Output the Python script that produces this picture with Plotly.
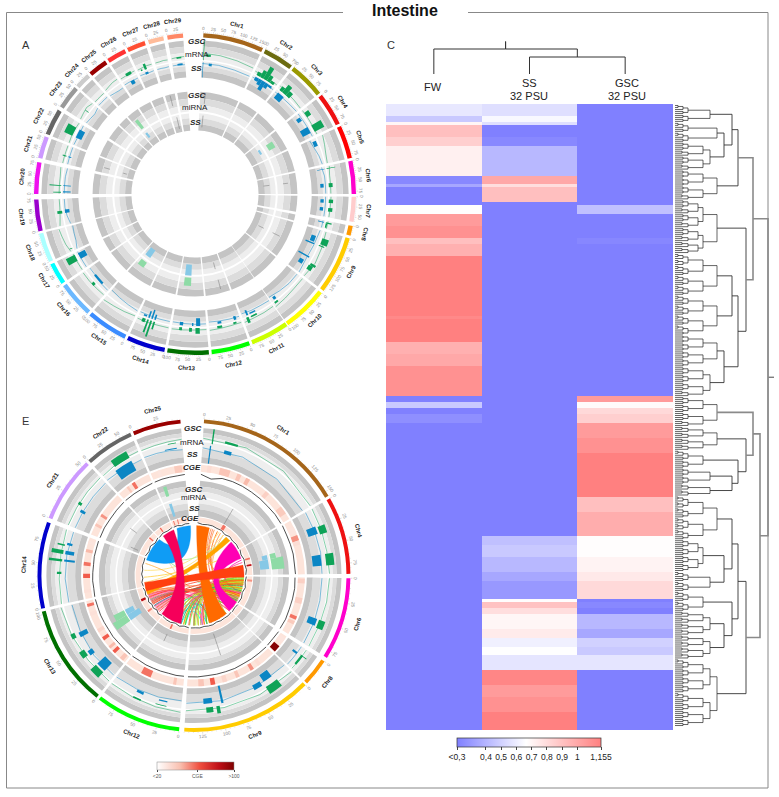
import numpy as np
import plotly.graph_objects as go

W, H = 779, 797

# ---------------- Panel C: heatmap (run length blocks, top to bottom) ----------------
block_rows = [4,2,1,4,3,10,3,1,5,1,3,4,4,2,4,20,1,8,4,4,10,
              2,2,2,3,5,5,15,5,8,
              3,4,5,3,6,1,2,2,5,3,3,3,5,5,4,5,6]
fw_blocks = [.58,.47,.70,.91,.85,.72,.24,.35,.30,.30,.67,1.05,1.09,.91,.97,1.155,1.12,1.155,.97,1.0,1.09,
             .30,.47,.30,.265,.30,.30,.30,.30,.30,
             .30,.30,.30,.30,.30,.30,.30,.30,.30,.30,.30,.30,.30,.30,.30,.30,.30]
ss_blocks = [.55,.64,.55,.30,.24,.41,1.0,.79,.91,.30,.30,.30,.30,.30,.30,.30,.30,.30,.30,.30,.30,
             .30,.30,.30,.30,.30,.30,.30,.30,.30,
             .44,.47,.41,.35,.295,.67,.90,.79,.70,.74,.61,.66,.57,1.13,1.05,1.09,1.155]
gsc_blocks = [.30,.30,.30,.30,.30,.30,.30,.30,.30,.30,.44,.30,.30,.235,.30,.30,.30,.30,.30,.30,.30,
              1.05,.68,.81,.85,1.05,1.09,1.155,.91,.98,
              .67,.67,.71,.75,.81,.30,.24,.30,.41,.35,.50,.47,.57,.30,.30,.30,.30]
heat_columns = ["FW", "SS 32 PSU", "GSC 32 PSU"]
heat_ticks = [.21, .4, .5, .6, .7, .8, .9, 1, 1.155]
heat_ticktext = ["<0,3", "0,4", "0,5", "0,6", "0,7", "0,8", "0,9", "1", "1,155"]

# ---------------- Row dendrogram: [height, child, child]; (height, n) = group of n rows ----------------
tree_top = [78,
            [63, [57, (35, 6), [49, (42, 7), (35, 9)]], (42, 10)],
            [71, (42, 18), [63, [57, (42, 14), (42, 13)], [49, (42, 11), (35, 10)]]]]
tree_bottom = [85,
               [78, (42, 10), [71, (42, 8), [63, (28, 6), [57, (35, 5), (35, 4)]]]],
               [71, [63, [57, (42, 15), [49, (28, 11), (35, 7)]],
                     [57, (28, 7), [49, (35, 8), (35, 8)]]], (42, 23)]]
tree_root = [93, tree_top, tree_bottom]
leaves_per_row = 1.5

# ---------------- Panel A: chromosomes ----------------
a_chr = ["Chr%d" % i for i in range(1, 30)]
a_start = [3,26,38,52,65,78,91,101.5,106,128,145,160,175,191,206,222,236,245,256.5,270,283,292,303,312.5,319,327,335,343,350]
a_end = [25,37,51,64,77,90,100,105,127,144.6,159,174,190,205,221,235,244,255.7,268,281.5,291,301.6,311.6,318,326,334,341.7,348.6,355.7]
a_len = [155,76,96,87,85,82,62,24,145,112,95,95,103,95,103,88,55,72,78,78,55,65,58,40,48,48,45,40,40]
chr_colors = {"Chr1":"#a5651a","Chr2":"#6b6b10","Chr3":"#999900","Chr4":"#ee1111","Chr5":"#ff0000","Chr6":"#ff00cc",
              "Chr7":"#ffcccc","Chr8":"#ff9900","Chr9":"#ffcc00","Chr10":"#ffff00","Chr11":"#ccff00","Chr12":"#00ff00",
              "Chr13":"#007000","Chr14":"#0000cc","Chr15":"#3b8cff","Chr16":"#6bb8ff","Chr17":"#00ffff","Chr18":"#aaffff",
              "Chr19":"#9900cc","Chr20":"#ee11ee","Chr21":"#cc99ff","Chr22":"#666666","Chr23":"#999999","Chr24":"#cccccc",
              "Chr25":"#990000","Chr26":"#ff3333","Chr27":"#ff4f33","Chr28":"#ffbb99","Chr29":"#ff8866"}

a_gsc_n = [1,1,2,2,2,2,2,3,3,3,4,4,6,6,7,7,8,8,9,9,9,9,10,11,11,12,12,13,13,13,14,14,14,14,16,17,18,19,20,20,21,22,23,26,27,27,29]
a_gsc_s = [.02,.06,.12,.28,.42,.58,.72,.08,.2,.35,.12,.62,.62,.08,.15,.55,.2,.35,.15,.3,.7,.75,.85,.82,.55,.15,.6,.2,.42,.7,.45,.55,.65,.75,.45,.55,.1,.45,.05,.3,.4,.35,.5,.4,.45,.2,.4]
a_gsc_e = [.03,.16,.28,.42,.58,.72,.88,.2,.35,.5,.3,.88,.76,.1,.32,.72,.35,.85,.28,.32,.75,.85,.95,.9,.75,.25,.75,.32,.5,.78,.5,.6,.7,.85,.55,.9,.13,.55,.08,.33,.45,.75,.53,.75,.6,.3,.75]
a_gsc_l = [0,.2,0,0,0,0,0,0,0,0,.1,.05,0,0,0,0,0,0,.05,0,.05,0,0,0,0,0,0,0,0,0,0,0,0,0,0,.05,0,0,0,0,0,.1,0,.1,0,0,.12]
a_gsc_h = [1,.32,.2,.4,.72,.35,.15,.25,.5,.3,.35,.6,.2,.45,.22,.22,.3,.08,.4,.3,.35,.25,.1,.3,.08,.1,.12,.3,.2,.15,.4,.85,.7,.2,.15,.55,.15,.25,.4,.6,.2,.55,.2,.25,.3,.08,.2]

a_ss_n = [1,1,2,2,2,2,2,3,4,4,5,6,6,7,7,8,9,9,9,9,10,11,11,12,12,13,13,13,14,14,14,14,16,17,19,20,20,21,22,26,27,29]
a_ss_s = [.02,.14,.12,.28,.42,.58,.72,.1,.15,.6,.1,.62,.08,.15,.55,.2,.15,.3,.6,.72,.84,.8,.55,.12,.6,.18,.38,.68,.45,.55,.65,.75,.3,.55,.45,.3,.06,.4,.35,.45,.4,.4]
a_ss_e = [.03,.2,.28,.42,.58,.72,.88,.35,.3,.85,.3,.76,.1,.32,.72,.3,.28,.33,.63,.82,.92,.86,.75,.2,.72,.3,.42,.78,.5,.6,.7,.85,.7,.9,.58,.33,.1,.45,.75,.7,.6,.8]
a_ss_l = [0,.05,0,0,0,0,0,.05,.15,.08,0,.2,0,.2,.2,0,.25,.2,.1,.3,0,0,0,0,0,0,0,0,0,0,0,0,.15,.05,.05,0,0,0,0,.15,.05,.05]
a_ss_h = [1,.22,.25,.4,.65,.35,.15,.5,.45,.65,.25,.42,.5,.42,.42,.4,.55,.8,.9,.6,.2,.35,.1,.25,.15,.5,.2,.22,.35,.6,.45,.12,.3,.55,.35,.5,.5,.2,.4,.4,.2,.15]

a_gsc_line = [[.33,.3,.25,.2],[.1,.1,.08,.08],[.15,.1,.08,.05],[.06,.06,.05,.05],[.3,.2,.1,.05],[.12,.05,.05,.05],[.06,.05,.05,.05],[.05,.05,.05,.05],
              [.08,.15,.2,.08],[.1,.1,.15,.2],[.1,.12,.12,.15],[.08,.08,.1,.12],[.06,.06,.08,.1],[.08,.08,.1,.1],[.05,.12,.18,.25],[.06,.08,.1,.1],
              [.05,.05,.05,.05],[.1,.2,.25,.3],[.2,.1,.05,.05],[.05,.05,.05,.1],[.05,.05,.05,.05],[.05,.08,.08,.05],[.1,.15,.2,.1],[.05,.05,.05,.05],
              [.1,.15,.2,.2],[.1,.1,.12,.12],[.08,.1,.12,.1],[.1,.1,.12,.1],[.12,.14,.15,.16]]
a_ss_line = [[.05,.05,.1,.12],[.08,.08,.08,.08],[.12,.1,.08,.05],[.06,.06,.05,.05],[.35,.25,.12,.05],[.15,.05,.05,.05],[.06,.05,.05,.05],[.05,.05,.05,.05],
             [.08,.15,.2,.1],[.12,.12,.2,.3],[.12,.15,.15,.2],[.1,.12,.15,.18],[.08,.08,.1,.12],[.1,.1,.12,.12],[.08,.15,.22,.3],[.1,.12,.2,.2],
             [.05,.05,.05,.05],[.1,.25,.3,.35],[.25,.12,.05,.05],[.05,.05,.05,.1],[.05,.05,.05,.05],[.05,.08,.08,.05],[.12,.18,.22,.12],[.05,.05,.05,.05],
             [.12,.18,.22,.22],[.12,.12,.15,.15],[.08,.1,.12,.1],[.1,.1,.12,.1],[.1,.1,.12,.12]]

a_mir_gsc_n = [4,13,15,25]
a_mir_gsc_s = [.3,.5,.6,.2]
a_mir_gsc_e = [.65,.8,.9,.5]
a_mir_gsc_l = [.2,.1,.1,.1]
a_mir_gsc_h = [.55,.5,.4,.6]
a_mir_ss_n = [4,13,15,25]
a_mir_ss_s = [.3,.5,.6,.2]
a_mir_ss_e = [.6,.8,.9,.45]
a_mir_ss_l = [.2,.0,.2,.2]
a_mir_ss_h = [.32,.6,.7,.5]
a_mark_n = [1,1,28,28,6,6,9,9,12,12,21,21]
a_mark_f = [.13,.13,.5,.65,.45,.45,.5,.5,.35,.35,.4,.4]
a_mark_lo = [92,68,92,68,90,70,88,72,90,72,90,72]
a_mark_hi = [103,80,103,80,95,76,96,78,100,79,96,76]

# ---------------- Panel E: chromosomes ----------------
e_chr = ["Chr1","Chr4","Chr6","Chr8","Chr9","Chr12","Chr13","Chr14","Chr21","Chr22","Chr25"]
e_start = [3.7,60.4,91,123.4,134.5,185.5,218.6,257.7,291.7,317.5,337]
e_end = [59.3,89.4,121.8,133.7,183.6,217.5,256.6,290,316.4,335.9,355]
e_len = [155,87,82,24,145,95,103,95,55,65,48]

e_gsc_n = ["Chr1","Chr1","Chr4","Chr4","Chr6","Chr8","Chr8","Chr9","Chr9","Chr9","Chr12","Chr12","Chr13","Chr13","Chr13","Chr14","Chr14","Chr14","Chr14","Chr21","Chr22","Chr25"]
e_gsc_s = [.07,.17,.28,.7,.6,.3,.3,.14,.7,.76,.55,.2,.12,.38,.62,.67,.57,.78,.4,.4,.35,.65]
e_gsc_e = [.08,.27,.4,.87,.72,.33,.75,.26,.73,.82,.66,.35,.24,.46,.68,.72,.6,.8,.43,.45,.75,.85]
e_gsc_l = [0,.2,0,0,0,0,.05,0,0,0,.15,.05,0,0,0,0,0,0,0,0,.1,.05]
e_gsc_h = [1,.35,.5,.55,.45,.5,.2,.55,.5,.35,.25,.1,.5,.4,.3,.8,.9,.5,.3,.25,.6,.1]
e_ss_n = ["Chr1","Chr1","Chr4","Chr4","Chr6","Chr8","Chr9","Chr9","Chr9","Chr9","Chr12","Chr12","Chr13","Chr13","Chr13","Chr14","Chr14","Chr14","Chr21","Chr22","Chr25"]
e_ss_s = [.06,.18,.26,.7,.6,.3,.16,.28,.66,.76,.55,.2,.12,.36,.6,.67,.57,.8,.3,.3,.55]
e_ss_e = [.07,.24,.38,.87,.7,.4,.25,.36,.68,.84,.65,.32,.24,.42,.66,.72,.6,.83,.35,.75,.85]
e_ss_l = [0,.1,0,.15,0,.1,.2,.05,0,.1,.05,.05,0,0,.1,0,0,0,0,0,.1]
e_ss_h = [1,.3,.55,.65,.5,.4,.65,.35,1,.4,.2,.12,.6,.3,.6,.5,.6,.3,.3,.6,.15]
e_gsc_line = [[.25,.28,.25,.1],[.1,.08,.06,.1],[.1,.08,.05,.05],[.05,.05,.05,.05],[.2,.15,.1,.1],[.25,.2,.15,.12],[.1,.1,.15,.2],[.1,.05,.05,.1],[.1,.1,.1,.1],[.05,.1,.15,.15],[.1,.12,.15,.2]]
e_ss_line = [[.1,.1,.15,.2],[.1,.08,.06,.1],[.1,.08,.05,.05],[.05,.05,.05,.05],[.15,.12,.08,.1],[.22,.18,.15,.12],[.1,.1,.18,.25],[.1,.05,.05,.1],[.1,.1,.1,.1],[.05,.1,.15,.15],[.1,.12,.15,.2]]

e_mir_gsc_n = ["Chr4","Chr4","Chr13","Chr13","Chr25"]
e_mir_gsc_s = [.48,.6,.42,.55,.2]
e_mir_gsc_e = [.6,.87,.55,.66,.32]
e_mir_gsc_l = [.0,.0,.0,.0,.3]
e_mir_gsc_h = [.35,.75,.95,.7,.9]
e_mir_ss_n = ["Chr4","Chr4","Chr13","Chr13","Chr25"]
e_mir_ss_s = [.48,.6,.42,.55,.2]
e_mir_ss_e = [.6,.85,.55,.66,.32]
e_mir_ss_l = [.1,.1,.0,.0,.1]
e_mir_ss_h = [.4,.6,.75,.5,.85]
e_mark_n = ["Chr1","Chr9","Chr12","Chr21","Chr21"]
e_mark_f = [.48,.55,.6,.1,.6]
e_mark_lo = [60,62,65,62,72]
e_mark_hi = [78,85,73,70,80]

# CGE tracks
e_cge_n = ["Chr1","Chr1","Chr1","Chr1","Chr1","Chr1","Chr4","Chr4","Chr4","Chr6","Chr6","Chr6","Chr6","Chr8","Chr8","Chr9","Chr9","Chr9","Chr9","Chr9","Chr9",
           "Chr12","Chr12","Chr13","Chr13","Chr13","Chr13","Chr13","Chr13","Chr13","Chr14","Chr14","Chr14","Chr14","Chr14","Chr21","Chr21","Chr22","Chr22","Chr25","Chr25"]
e_cge_s = [.06,.18,.35,.44,.66,.86,.12,.28,.38,.02,.35,.67,.76,.1,.6,.17,.26,.43,.57,.7,.82,
           .12,.55,.03,.18,.27,.41,.54,.79,.92,.1,.34,.54,.76,.9,.2,.43,.27,.45,.7,.2]
e_cge_e = [.1,.28,.39,.48,.7,.94,.25,.38,.46,.1,.45,.73,.82,.4,.95,.21,.3,.47,.62,.75,.88,
           .17,.72,.09,.23,.31,.46,.59,.84,.96,.15,.41,.6,.81,.95,.26,.49,.34,.55,.92,.3]
e_cge_v = [33,42,42,45,38,40,30,52,33,38,38,58,40,30,98,33,52,42,36,62,42,
           42,58,42,62,45,62,36,32,58,32,62,58,45,30,42,52,40,58,40,30]
e_in_cge_n = ["Chr1","Chr4","Chr4","Chr6","Chr6","Chr9","Chr12","Chr13","Chr13","Chr21","Chr22","Chr25","Chr25"]
e_in_cge_s = [.47,.4,.63,.1,.45,.52,.55,.33,.66,.72,.35,.1,.33]
e_in_cge_e = [.53,.46,.69,.17,.5,.56,.6,.38,.72,.78,.42,.16,.39]
e_in_cge_v = [58,58,85,52,32,30,60,55,85,60,60,55,55]
e_line_out = [[0,.8,.1,0,0,.05,.05,.1,0,.05],[0,.1,.05,0,.1,0],[.1,0,.05,.1,0,.1],[0,.1,.05],[0,.05,.05,.1,0,.05,.05,.1,0,0],[.05,0,.1,.05,.05,0,.1,0],
             [0,.05,.1,0,.1,.05,0,.05,0],[0,.1,0,.05,.1,0,.05,0],[.05,0,.1,.05,0],[0,.05,.1,.05],[.05,0,.05,.1,0]]
e_line_in = [[0,.6,.2,0,.3,.1,.9,.1,.6,.2,.5],[.1,.8,.2,.5,.1,.6],[.3,.7,.1,.9,.2,.5],[.2,.5,.1],[.4,.1,.3,.2,.6,.1,.2,.5,.1,.3,.2],[.2,.7,.1,.9,.3,.4,.8],
            [.9,.3,1.2,.4,1.0,.2,1.1,.4,.9,.3],[.6,.2,.9,.3,.7,.2,.5,.4],[.3,1.0,.2,1.2,.4],[.8,.2,.6,.1],[.3,.2,.8,.3,.4]]

# Chord ribbons of panel E (genome angle, degrees)
rib_a0 = [40,340,3,48,78,322]
rib_a1 = [46,356,18,70,92,336]
rib_b0 = [248,288,140,122,252,195]
rib_b1 = [257,316,162,135,262,220]
rib_col = ["#ffa500","#0f9cf5","#ff6a00","#ff00b4","#ff4010","#f5005a"]
thin_a = [20,24,28,32,36,22,262,268,276,284,296,300,305,92,95,98,101,104,107,110,113,116,119,93,97,103,108,112,117,121,
          226,229,232,235,238,241,244,247,250,228,233,240,246,200,195,205,190,198,210,62,66,72,75,180,170,172,140,150,165,222,
          224,227,230,233,236,239,242,245,248,251,225,231,237,243,249,94,99,106,111,115,120,96,100,105,109,114,118,122,126,130]
thin_b = [100,108,115,122,128,130,36,62,30,150,40,130,190,165,172,178,185,192,198,205,212,160,170,150,180,195,155,168,175,190,
          100,105,112,95,118,125,90,132,110,150,165,140,175,165,170,160,150,155,142,120,118,110,126,125,128,135,100,115,130,125,
          96,98,102,108,114,120,124,128,135,140,145,155,160,170,180,205,200,190,215,175,165,146,152,158,162,168,180,186,192,198]
thin_col = ["#ff8c40","#ff8c40","#ff6a00","#ff8c40","#ffb060","#ff7040","#ffe070","#ffd040","#ffe070","#ffb040","#b0f090","#90ee90","#ffd0a0",
            "#aaff00","#88ee00","#aaff00","#66dd22","#bbff22","#aaff00","#88dd22","#ccee00","#ff00b4","#ff3080","#66cc33","#aaff00","#00c060","#ffa500","#ff8800","#88ee00","#44cc44",
            "#ff4422","#ff5a3c","#ff3322","#e04020","#ff6644","#20a090","#ff4422","#ff5a3c","#ff7744","#ff88cc","#ff66dd","#ff4466","#ff55aa",
            "#00eeee","#00ffff","#22dddd","#00ffff","#22cccc","#00dddd","#ffa060","#ff8040","#ff00aa","#ff3388","#ff2288","#ff88dd","#ff66aa","#88dd22","#ff5522","#66cc22","#ff99cc",
            "#ff3322","#ff5a3c","#e04020","#20a090","#ff4422","#c05040","#ff6644","#ff3322","#ff5a3c","#ff7744","#ff88cc","#ff66dd","#e04020","#ff55aa","#ffa060",
            "#88ee00","#aaff00","#66dd22","#ff3080","#bbff22","#44cc44","#ff8800","#ff7020","#ffa500","#88dd22","#ff6a00","#66cc33","#ff4422","#ff8800","#ff3388"]

# CGE colour scale legend
cge_ticks = [20, 62, 100]
cge_ticktext = ["<20", "CGE", ">100"]

# ---------------- helpers ----------------
GREEN, BLUE = "#0fa358", "#0b86c4"
LGREEN, LBLUE = "#8edba6", "#86c8e6"
FONT = "Liberation Sans"
annotations = []

def px(x): return x / W
def py(y): return 1 - y / H

def label(x, y, text, size=8, color="#222", angle=0, weight=False, italic=False, family=FONT):
    t = text
    if weight: t = "<b>%s</b>" % t
    if italic: t = "<i>%s</i>" % t
    annotations.append(dict(x=px(x), y=py(y), xref="paper", yref="paper", text=t, showarrow=False,
                            font=dict(size=size, color=color, family=family), textangle=angle,
                            xanchor="center", yanchor="middle"))

fig = go.Figure()

def bars(sub, theta, width, base, height, color, extra=None):
    marker = dict(color=color, line=dict(width=0))
    if extra: marker.update(extra)
    fig.add_trace(go.Barpolar(theta=theta, width=width, base=base, r=height, marker=marker,
                              subplot=sub, showlegend=False, hoverinfo="skip"))

def circos(sub, center, names, starts, ends, lens, R_bar, tracks, tick_r, name_r):
    ang = {n: (s, e) for n, s, e in zip(names, starts, ends)}
    mids = [(s + e) / 2 for s, e in zip(starts, ends)]
    widths = [e - s for s, e in zip(starts, ends)]
    for r0, r1, col in tracks:
        bars(sub, mids, widths, [r0] * len(mids), [r1 - r0] * len(mids), col)
    bars(sub, mids, widths, [R_bar[0]] * len(mids), [R_bar[1] - R_bar[0]] * len(mids), [chr_colors[n] for n in names])
    tr, tth = [], []
    for n, s, e, L in zip(names, starts, ends, lens):
        for v in range(0, L + 1, 5):
            th = s + (e - s) * v / L
            major = v % 25 == 0
            tr += [R_bar[1] + .3, R_bar[1] + (2.0 if major else 1.0), None]
            tth += [th, th, None]
            if major:
                a = np.radians(th)
                rot = th if th < 105 or th > 268 else th - 180
                label(center[0] + tick_r * np.sin(a), center[1] - tick_r * np.cos(a), str(v), 4.6, "#8a8a8a", rot)
        m = np.radians((s + e) / 2)
        th = (s + e) / 2
        rot = th if th < 105 or th > 268 else th - 180
        label(center[0] + name_r * np.sin(m), center[1] - name_r * np.cos(m), n, 6, "#222", rot, weight=True)
    fig.add_trace(go.Scatterpolar(r=tr, theta=tth, mode="lines", line=dict(color="#aaa", width=.4),
                                  subplot=sub, showlegend=False, hoverinfo="skip"))
    return ang

def peaks(sub, ang, n, s, e, l, h, r0, r1, color):
    th, w, b, d = [], [], [], []
    for a, fs, fe, lo, hi in zip(n, s, e, l, h):
        st, en = ang[a]
        th.append(st + (fs + fe) / 2 * (en - st))
        w.append(max((fe - fs) * (en - st), .25))
        b.append(r0 + lo * (r1 - r0) if r1 > r0 else r0 + hi * (r1 - r0))
        d.append(abs(hi - lo) * abs(r1 - r0))
    bars(sub, th, w, b, d, color)

def level_lines(sub, ang, names, lines, r0, r1, color, width=.5):
    for n, vals in zip(names, lines):
        st, en = ang[n]
        t = np.linspace(st + .2, en - .2, len(vals))
        r = r0 + np.array(vals) * (r1 - r0)
        fig.add_trace(go.Scatterpolar(r=r, theta=t, mode="lines", line=dict(color=color, width=width),
                                      subplot=sub, showlegend=False, hoverinfo="skip"))

def marks(sub, ang, n, f, lo, hi, color="#777"):
    rr, tt = [], []
    for a, fr, r0, r1 in zip(n, f, lo, hi):
        st, en = ang[a]
        th = st + fr * (en - st)
        rr += [r0, r1, None]
        tt += [th, th, None]
    fig.add_trace(go.Scatterpolar(r=rr, theta=tt, mode="lines", line=dict(color=color, width=.5),
                                  subplot=sub, showlegend=False, hoverinfo="skip"))

G1, G2, G3 = "#c4c4c4", "#dcdcdc", "#eeeeee"
# ---------------- Panel A ----------------
A_C = (195, 194)
A_S = .985
a_tracks = [(150, 156, G1), (143.5, 150, G2), (136.5, 143.5, G3), (130, 135, G3), (125, 130, G2), (118.5, 125, G1),
            (97, 104, G1), (90, 97, G2), (84, 90, G3), (77, 82, G3), (71, 77, G2), (64.5, 71, G1)]
ang_a = circos("polar", A_C, a_chr, a_start, a_end, a_len, (159, 163.5), a_tracks, 168.5 * A_S, 177 * A_S)
def a_names(idx): return [a_chr[i - 1] for i in idx]
peaks("polar", ang_a, a_names(a_gsc_n), a_gsc_s, a_gsc_e, a_gsc_l, a_gsc_h, 136, 156, GREEN)
peaks("polar", ang_a, a_names(a_ss_n), a_ss_s, a_ss_e, a_ss_l, a_ss_h, 134, 118.5, BLUE)
peaks("polar", ang_a, a_names(a_mir_gsc_n), a_mir_gsc_s, a_mir_gsc_e, a_mir_gsc_l, a_mir_gsc_h, 83, 104, LGREEN)
peaks("polar", ang_a, a_names(a_mir_ss_n), a_mir_ss_s, a_mir_ss_e, a_mir_ss_l, a_mir_ss_h, 83, 64.5, LBLUE)
level_lines("polar", ang_a, a_chr, a_gsc_line, 137, 156, GREEN)
level_lines("polar", ang_a, a_chr, a_ss_line, 133.5, 118.5, BLUE)
marks("polar", ang_a, a_names(a_mark_n), a_mark_f, a_mark_lo, a_mark_hi)

# ---------------- Panel E ----------------
E_C = (194, 575.5)
E_S = .99
e_tracks = [(144, 149, G1), (140, 144, G2), (136.7, 140, G3), (128, 135, G3), (120, 128, G2), (114, 120, G1),
            (90, 96, G1), (85, 90, G2), (79.5, 85, G3), (73, 78, G3), (67, 73, G2), (60, 67, G1),
            (105, 112, "#fde4da"), (54, 59, "#fde4da")]
ang_e = circos("polar2", E_C, e_chr, e_start, e_end, e_len, (154, 158), e_tracks, 163 * E_S, 172 * E_S)
cs = [[0, "#ffffff"], [.3, "#f9c0b0"], [.55, "#f05040"], [.8, "#c01018"], [1, "#7f0000"]]
def cge_bars(n, s, e, v, r0, r1, cb=None):
    th = [ang_e[a][0] + (x + y) / 2 * (ang_e[a][1] - ang_e[a][0]) for a, x, y in zip(n, s, e)]
    w = [(y - x) * (ang_e[a][1] - ang_e[a][0]) for a, x, y in zip(n, s, e)]
    extra = dict(colorscale=cs, cmin=20, cmax=100)
    if cb:
        extra.update(showscale=True, colorbar=cb)
    bars("polar2", th, w, [r0] * len(th), [r1 - r0] * len(th), v, extra)
cge_bars(e_cge_n, e_cge_s, e_cge_e, e_cge_v, 105, 112)
cge_bars(e_in_cge_n, e_in_cge_s, e_in_cge_e, e_in_cge_v, 54, 59,
         cb=dict(orientation="h", x=px(195.5), xanchor="center", y=py(762), yanchor="top", len=77, lenmode="pixels",
                 thickness=8, thicknessmode="pixels", xpad=0, ypad=0, tickvals=cge_ticks, ticktext=cge_ticktext, tickangle=0,
                 tickfont=dict(size=5, color="#555", family=FONT), ticks="outside", ticklen=2, tickwidth=.5,
                 outlinewidth=.5, outlinecolor="#888"))
peaks("polar2", ang_e, e_gsc_n, e_gsc_s, e_gsc_e, e_gsc_l, e_gsc_h, 134, 149, GREEN)
peaks("polar2", ang_e, e_ss_n, e_ss_s, e_ss_e, e_ss_l, e_ss_h, 132, 114, BLUE)
peaks("polar2", ang_e, e_mir_gsc_n, e_mir_gsc_s, e_mir_gsc_e, e_mir_gsc_l, e_mir_gsc_h, 79, 96, LGREEN)
peaks("polar2", ang_e, e_mir_ss_n, e_mir_ss_s, e_mir_ss_e, e_mir_ss_l, e_mir_ss_h, 78, 60, LBLUE)
level_lines("polar2", ang_e, e_chr, e_gsc_line, 135.5, 149, GREEN)
level_lines("polar2", ang_e, e_chr, e_ss_line, 131, 114, BLUE)
marks("polar2", ang_e, e_mark_n, e_mark_f, e_mark_lo, e_mark_hi)
level_lines("polar2", ang_e, e_chr, e_line_out, 102.5, 98, "#222", .8)
level_lines("polar2", ang_e, e_chr, e_line_in, 53.5, 51.5, "#222", .8)

# chords
CH_R = 50.5
def xy(r, deg):
    a = np.radians(deg)
    return r * np.sin(a), r * np.cos(a)
def pull(a, b):
    d = abs((a - b + 180) % 360 - 180)
    return .8 * (1 - d / 60) if d <= 60 else .3 * (d - 60) / 120
def bez(a, b, n=30):
    k = pull(a, b)
    t = np.linspace(0, 1, n)
    xa, ya = xy(CH_R, a)
    xb, yb = xy(CH_R, b)
    cx, cy = k * (xa + xb) / 2, k * (ya + yb) / 2
    return ((1 - t) ** 2 * xa + 2 * t * (1 - t) * cx + t ** 2 * xb,
            (1 - t) ** 2 * ya + 2 * t * (1 - t) * cy + t ** 2 * yb)
def to_polar(x, y):
    return np.hypot(x, y), np.degrees(np.arctan2(x, y)) % 360
for tha, thb, col in zip(thin_a, thin_b, thin_col):
    x, y = bez(tha, thb)
    r, t = to_polar(x, y)
    fig.add_trace(go.Scatterpolar(r=r, theta=t, mode="lines", line=dict(color=col, width=.8), subplot="polar2",
                                  showlegend=False, hoverinfo="skip"))
for a0, a1, b0, b1, col in zip(rib_a0, rib_a1, rib_b0, rib_b1, rib_col):
    x1, y1 = bez(a0, b1)
    x2, y2 = bez(b0, a1)
    xb, yb = xy(CH_R, np.linspace(b1, b0, 10))
    xa, ya = xy(CH_R, np.linspace(a1, a0, 10))
    x = np.concatenate([x1, xb, x2, xa]); y = np.concatenate([y1, yb, y2, ya])
    r, t = to_polar(x, y)
    fig.add_trace(go.Scatterpolar(r=r, theta=t, mode="lines", fill="toself", fillcolor=col, line=dict(color=col, width=.3),
                                  subplot="polar2", showlegend=False, hoverinfo="skip"))

# ---------------- Panel C ----------------
HEAT_MIN = .21
z = np.column_stack([np.repeat(fw_blocks, block_rows), np.repeat(ss_blocks, block_rows), np.repeat(gsc_blocks, block_rows)])
z[np.isclose(z, .30)] = HEAT_MIN   # "<0,3" sits at the far end of the scale
n_rows = z.shape[0]
fig.add_trace(go.Heatmap(z=z, x=[0, 1, 2], y=list(range(n_rows)), xaxis="x", yaxis="y", zmin=HEAT_MIN, zmax=1.155,
                         colorscale=[[0, "#8080ff"], [.48, "#ffffff"], [1, "#ff8080"]], hoverinfo="skip",
                         colorbar=dict(orientation="h", x=px(529), xanchor="center", y=py(738), yanchor="top",
                                       len=144, lenmode="pixels", thickness=9, thicknessmode="pixels", xpad=0, ypad=0,
                                       tickvals=heat_ticks, ticktext=heat_ticktext, tickangle=0, ticks="outside", ticklen=3, tickwidth=.6,
                                       tickfont=dict(size=8.5, color="#222", family=FONT), outlinewidth=.7, outlinecolor="#333")))
# top dendrogram (column positions 0,1,2 ; height axis y2)
col_merge_low, col_merge_high, leaf_h = .68, 1.0, 0
fig.add_trace(go.Scatter(x=[0, 0, .75, .75, .75, None, .75, 1.5, 1.5, None, 1, 1, 2, 2],
                         y=[leaf_h, col_merge_high, col_merge_high, 1.3, col_merge_high, None, col_merge_high, col_merge_high, col_merge_low, None,
                            leaf_h, col_merge_low, col_merge_low, leaf_h],
                         mode="lines", line=dict(color="#333", width=1), xaxis="x", yaxis="y2", showlegend=False, hoverinfo="skip"))

# row dendrogram
segs = {"low": ([], []), "mid": ([], []), "top": ([], [])}
row_counter = [0.0]
def seg(cls, xs, ys):
    segs[cls][0].extend(xs + [None])
    segs[cls][1].extend(ys + [None])
def group(n, h):
    if n == 1:
        y = row_counter[0]; row_counter[0] += 1 / leaves_per_row
        return y, 0
    k = (n + 1) // 2
    sub = 35 if n >= 30 else 28 if n >= 12 else 13 if n >= 4 else 7
    ya, ha = group(k, min(sub, h - 5) if k > 1 else 0)
    yb, hb = group(n - k, min(sub, h - 5) if n - k > 1 else 0)
    seg("low", [ha, h, h, hb], [ya, ya, yb, yb])
    return (ya + yb) / 2, h
def walk(node):
    if isinstance(node, tuple):
        return group(int(round(node[1] * leaves_per_row)), node[0])
    h, a, b = node
    ya, ha = walk(a)
    yb, hb = walk(b)
    cls = "top" if h >= 78 else "mid"
    seg(cls, [ha, h, h, hb], [ya, ya, yb, yb])
    return (ya + yb) / 2, h
yr, hr = walk(tree_root)
seg("mid", [hr, 99], [yr, yr])
for cls, col, wd in [("low", "#222", .7), ("mid", "#333", .9), ("top", "#8a8a8a", 1.6)]:
    fig.add_trace(go.Scatter(x=segs[cls][0], y=segs[cls][1], mode="lines", line=dict(color=col, width=wd),
                             xaxis="x2", yaxis="y", showlegend=False, hoverinfo="skip"))

# ---------------- texts ----------------
label(405, 11, "Intestine", 16, "#111", weight=True)
label(26, 45, "A", 11, "#333"); label(25, 421, "E", 11, "#333"); label(391, 45, "C", 11, "#333")
label(433, 87, "FW", 11, "#222")
label(529, 83, "SS", 11, "#222"); label(529, 96, "32 PSU", 11, "#222")
label(627, 83, "GSC", 11, "#222"); label(627, 96, "32 PSU", 11, "#222")
for x, y, t, bi in [(197, 42, "GSC", 1), (197, 55, "mRNA", 0), (197, 68, "SS", 1), (197, 96, "GSC", 1), (195, 108, "miRNA", 0), (195, 122, "SS", 1),
                    (193, 429, "GSC", 1), (192, 442, "mRNA", 0), (192, 454, "SS", 1), (192, 467, "CGE", 1),
                    (194, 489, "GSC", 1), (194, 497, "miRNA", 0), (194, 508, "SS", 1), (190, 518, "CGE", 1)]:
    label(x, y, t, 8, "#222", weight=bool(bi), italic=bool(bi))

# frame
frame_x = [343, 6.5, 6.5, 768, 768, 468]
frame_y = [12.5, 12.5, 788, 788, 12.5, 12.5]
shapes = [dict(type="line", xref="paper", yref="paper", x0=px(a), x1=px(b), y0=py(c), y1=py(d), line=dict(color="#888", width=1))
          for a, b, c, d in zip(frame_x[:-1], frame_x[1:], frame_y[:-1], frame_y[1:])]

def polar_layout(c, half, scale):
    return dict(domain=dict(x=[px(c[0] - half), px(c[0] + half)], y=[py(c[1] + half), py(c[1] - half)]),
                bgcolor="rgba(0,0,0,0)",
                radialaxis=dict(visible=False, range=[0, half / scale]),
                angularaxis=dict(visible=False, rotation=90, direction="clockwise"))

fig.update_layout(
    width=W, height=H, margin=dict(l=0, r=0, t=0, b=0), paper_bgcolor="white", plot_bgcolor="white",
    font=dict(family=FONT), showlegend=False,
    annotations=annotations, shapes=shapes,
    polar=polar_layout(A_C, 190, A_S), polar2=polar_layout(E_C, 190, E_S),
    xaxis=dict(domain=[px(386), px(673)], range=[-.5, 2.5], visible=False, anchor="y"),
    yaxis=dict(domain=[py(730), py(104)], range=[n_rows - .5, -.5], visible=False, anchor="x"),
    xaxis2=dict(domain=[px(675), px(775)], range=[0, 100], visible=False, anchor="y"),
    yaxis2=dict(domain=[py(74), py(41)], range=[0, 1.32], visible=False, anchor="x"),
)
fig.write_html("out.html", post_script="document.body.style.margin='0';", config=dict(displayModeBar=False))
